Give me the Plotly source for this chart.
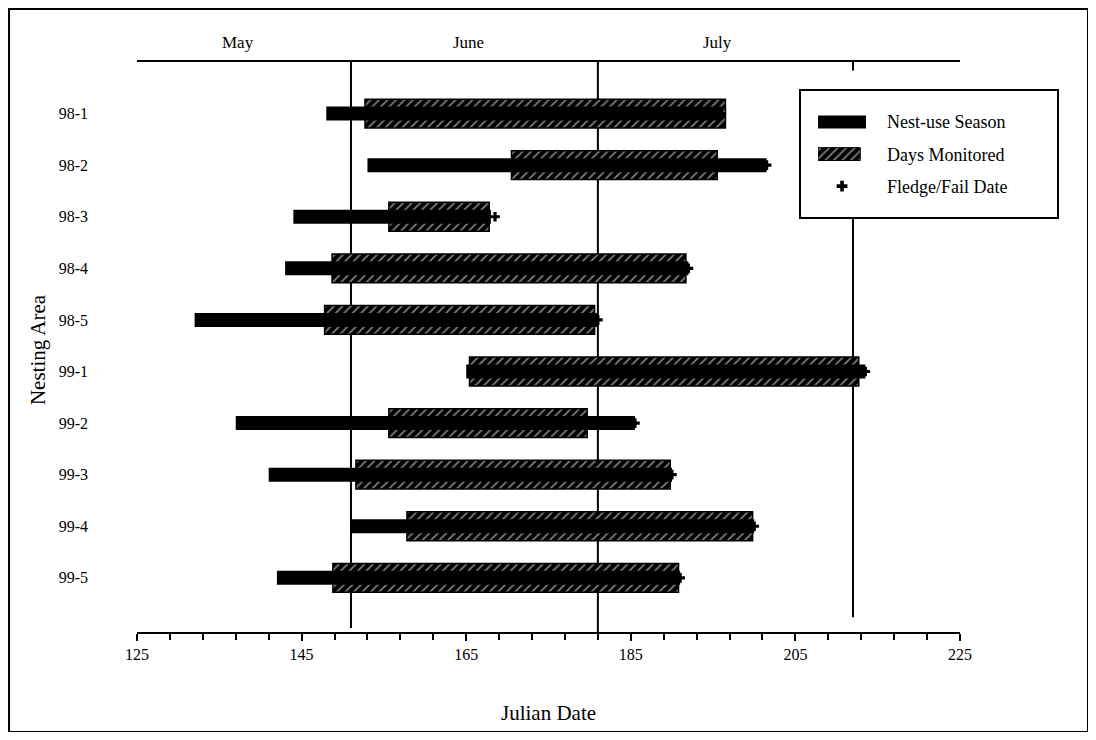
import plotly.graph_objects as go

areas = ["98-1", "98-2", "98-3", "98-4", "98-5", "99-1", "99-2", "99-3", "99-4", "99-5"]
nest_start = [148, 153, 144, 143, 132, 165, 137, 141, 151, 142]
nest_end = [196, 201.5, 168, 192, 181, 213.5, 185.5, 190, 200, 191]
mon_start = [152.7, 170.5, 155.6, 148.7, 147.8, 165.4, 155.6, 151.6, 157.8, 148.8]
mon_end = [196.5, 195.5, 167.8, 191.7, 180.6, 212.7, 179.7, 189.8, 199.8, 190.8]
fledge = [196, 201.5, 168.5, 192, 181, 213.5, 185.5, 190, 200, 191]

month_names = ["May", "June", "July"]
month_mid = [137.3, 165.3, 195.5]
month_bounds = [151, 181, 212]
x_ticks = [125, 145, 165, 185, 205, 225]

legend_names = ["Nest-use Season", "Days Monitored", "Fledge/Fail Date"]

FONT = "Liberation Serif"
HATCH = dict(shape="/", fgcolor="white", bgcolor="black", size=6, solidity=0.3)

fig = go.Figure()

fig.add_trace(go.Bar(
    y=areas, x=[e - s for s, e in zip(mon_start, mon_end)], base=mon_start,
    orientation="h", width=0.56, name=legend_names[1], showlegend=False,
    marker=dict(color="black", pattern=HATCH, line=dict(color="black", width=1.5)),
))
fig.add_trace(go.Bar(
    y=areas, x=[e - s for s, e in zip(nest_start, nest_end)], base=nest_start,
    orientation="h", width=0.27, name=legend_names[0], showlegend=False,
    marker=dict(color="black", line=dict(color="black", width=0)),
))
fig.add_trace(go.Scatter(
    y=areas, x=fledge, mode="markers", name=legend_names[2], showlegend=False,
    marker=dict(symbol="cross", size=8, color="black"),
))

# legend keys drawn on a small auxiliary axis pair
fig.add_trace(go.Bar(y=[0], x=[1], base=[0], orientation="h", width=0.4,
                     xaxis="x2", yaxis="y2", showlegend=False, hoverinfo="skip",
                     marker=dict(color="black", line=dict(width=0))))
fig.add_trace(go.Bar(y=[1], x=[0.88], base=[0], orientation="h", width=0.4,
                     xaxis="x2", yaxis="y2", showlegend=False, hoverinfo="skip",
                     marker=dict(color="black", pattern=HATCH, line=dict(color="black", width=1))))
fig.add_trace(go.Scatter(y=[2], x=[0.5], mode="markers", xaxis="x2", yaxis="y2",
                         showlegend=False, hoverinfo="skip",
                         marker=dict(symbol="cross", size=9, color="black")))

shapes = []
# month boundary lines
shapes.append(dict(type="line", xref="x", yref="paper", x0=151, x1=151, y0=0.007, y1=1,
                   line=dict(color="black", width=2), layer="below"))
shapes.append(dict(type="line", xref="x", yref="paper", x0=181, x1=181, y0=0.0, y1=1,
                   line=dict(color="black", width=2), layer="below"))
shapes.append(dict(type="line", xref="x", yref="paper", x0=212, x1=212, y0=0.026, y1=0.73,
                   line=dict(color="black", width=2), layer="below"))
shapes.append(dict(type="line", xref="x", yref="paper", x0=212, x1=212, y0=0.985, y1=1,
                   line=dict(color="black", width=2), layer="below"))
# legend box
shapes.append(dict(type="rect", xref="paper", yref="paper",
                   x0=0.8056, x1=1.1191, y0=0.7263, y1=0.9509,
                   fillcolor="white", line=dict(color="black", width=2), layer="below"))
# outer frame
shapes.append(dict(type="rect", xref="paper", yref="paper",
                   x0=-0.1555, x1=1.1555, y0=-0.1755, y1=1.093,
                   line=dict(color="black", width=2)))

annotations = []
for name, xm in zip(month_names, month_mid):
    annotations.append(dict(x=xm, y=1.035, xref="x", yref="paper", text=name,
                            xanchor="center", yanchor="middle", showarrow=False,
                            font=dict(family=FONT, size=17, color="black")))
annotations.append(dict(x=-0.12, y=0.495, xref="paper", yref="paper", text="Nesting Area",
                        textangle=-90, xanchor="center", yanchor="middle", showarrow=False,
                        font=dict(family=FONT, size=21, color="black")))
annotations.append(dict(x=0.5, y=-0.142, xref="paper", yref="paper", text="Julian Date",
                        xanchor="center", yanchor="middle", showarrow=False,
                        font=dict(family=FONT, size=21, color="black")))
for name, yl in zip(legend_names, [0.8947, 0.8368, 0.7807]):
    annotations.append(dict(x=0.9089, y=yl, xref="paper", yref="paper", text=name,
                            xanchor="left", yanchor="middle", showarrow=False,
                            font=dict(family=FONT, size=18, color="black")))

fig.update_layout(
    width=1080, height=724,
    margin=dict(l=129, r=128, t=54, b=100),
    paper_bgcolor="white", plot_bgcolor="white",
    barmode="overlay",
    font=dict(family=FONT, size=16, color="black"),
    shapes=shapes, annotations=annotations,
    showlegend=False,
    xaxis2=dict(domain=[0.8275, 0.8858], range=[0, 1], anchor="y2", visible=False,
                fixedrange=True),
    yaxis2=dict(domain=[0.758, 0.919], range=[2.43, -0.43], anchor="x2", visible=False,
                fixedrange=True),
)
fig.update_layout(xaxis=dict(
    range=[125, 225], tickvals=x_ticks, ticks="outside", ticklen=7,
    tickcolor="black", tickwidth=1.5,
    showline=True, linecolor="black", linewidth=1.5, mirror=True,
    showgrid=False, zeroline=False,
    minor=dict(dtick=4, tick0=125, ticks="outside", ticklen=6,
               tickcolor="black", tickwidth=1.5, showgrid=False),
    tickfont=dict(family=FONT, size=16)))
fig.update_layout(yaxis=dict(
    type="category", categoryorder="array", categoryarray=areas,
    range=[10.05, -1], showgrid=False, zeroline=False, showline=False,
    ticks="", ticklabelstandoff=48,
    tickfont=dict(family=FONT, size=16)))

fig.write_html("out.html")
